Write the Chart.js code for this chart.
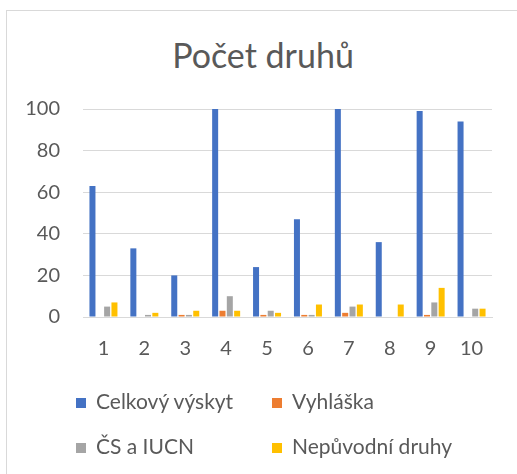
<!DOCTYPE html>
<html>
<head>
<meta charset="utf-8">
<script src="https://cdn.jsdelivr.net/npm/chart.js@4.4.1/dist/chart.umd.min.js"></script>
<style>
  html, body { margin: 0; padding: 0; background: #fff; }
  #wrap { position: relative; width: 517px; height: 474px; overflow: hidden; }
  #frame {
    position: absolute; left: 6px; top: 10px; width: 600px; height: 600px;
    border: 1px solid #d9d9d9; box-sizing: border-box;
  }
  #chart { position: absolute; left: 0; top: 0; }
  #title {
    position: absolute; left: 9px; width: 508px; top: 34px; text-align: center;
    font-family: Lato, sans-serif; font-size: 34px; line-height: 41px; color: #595959;
  }
  #legend { position: absolute; left: 0; top: 0; width: 517px; height: 474px; pointer-events: none; }
  .item {
    position: absolute; font-family: Lato, sans-serif; font-size: 21px; color: #595959;
    line-height: 24px; white-space: nowrap;
  }
  .item i { display: inline-block; width: 10px; height: 10px; margin-right: 10px; vertical-align: 1px; }
</style>
</head>
<body>
<div id="wrap">
  <div id="frame"></div>
  <div id="title"></div>
  <canvas id="chart" width="517" height="474"></canvas>
  <div id="legend"></div>
</div>
<script>
// chart data
const chartTitle = "Počet druhů";
const categories = ["1", "2", "3", "4", "5", "6", "7", "8", "9", "10"];
const seriesNames = ["Celkový výskyt", "Vyhláška", "ČS a IUCN", "Nepůvodní druhy"];
const celkovy = [63, 33, 20, 100, 24, 47, 100, 36, 99, 94];
const vyhlaska = [0, 0, 1, 3, 1, 1, 2, 0, 1, 0];
const csIucn = [5, 1, 1, 10, 3, 1, 5, 0, 7, 4];
const nepuvodni = [7, 2, 3, 3, 2, 6, 6, 6, 14, 4];
const yTicks = [0, 20, 40, 60, 80, 100];
const colors = ["#4472C4", "#ED7D31", "#A5A5A5", "#FFC000"];

const textColor = "#595959";
const gridColor = "#d9d9d9";

const values = [celkovy, vyhlaska, csIucn, nepuvodni];

const chartConfig = {
  type: "bar",
  data: {
    labels: categories,
    datasets: seriesNames.map((name, i) => ({
      label: name,
      data: values[i],
      backgroundColor: colors[i],
      borderWidth: 0,
      barPercentage: 0.82,
      categoryPercentage: 0.717,
    })),
  },
  options: {
    responsive: false,
    animation: false,
    layout: { padding: { left: 0, right: 25, top: 109, bottom: 93 } },
    plugins: {
      legend: { display: false },
      tooltip: { enabled: false },
      title: { display: false },
    },
    scales: {
      x: {
        grid: { display: false, drawTicks: false },
        border: { color: gridColor, width: 1 },
        ticks: {
          color: textColor,
          font: { family: "Lato", size: 20 },
          padding: 20,
          maxRotation: 0,
        },
      },
      y: {
        min: 0,
        max: 100,
        afterBuildTicks: (scale) => {
          scale.ticks = yTicks.map((v) => ({ value: v }));
        },
        afterFit: (scale) => {
          scale.width = 83;
        },
        grid: { color: gridColor, lineWidth: 1, drawTicks: false },
        border: { display: false },
        ticks: {
          color: textColor,
          font: { family: "Lato", size: 20 },
          padding: 23,
        },
      },
    },
  },
};

const chart = new Chart(document.getElementById("chart"), chartConfig);

document.getElementById("title").textContent = chartTitle;

// legend in two columns, like the original
const legendPos = [
  [76, 401],
  [272, 401],
  [76, 446],
  [272, 446],
];
const legend = document.getElementById("legend");
seriesNames.forEach((name, i) => {
  const el = document.createElement("div");
  el.className = "item";
  el.style.left = legendPos[i][0] + "px";
  el.style.top = legendPos[i][1] - 12 + "px";
  el.innerHTML = '<i style="background:' + colors[i] + '"></i>';
  el.appendChild(document.createTextNode(name));
  legend.appendChild(el);
});
</script>
</body>
</html>
